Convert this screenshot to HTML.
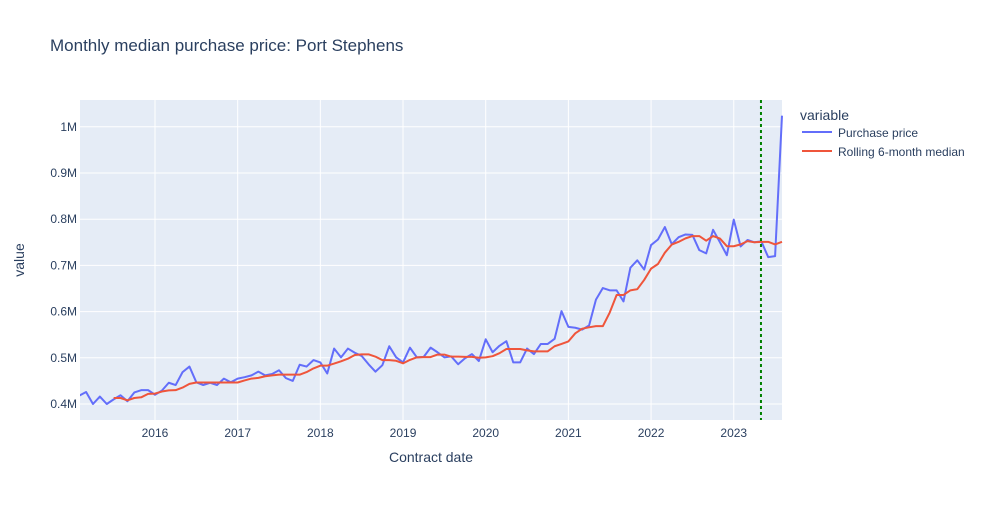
<!DOCTYPE html>
<html><head><meta charset="utf-8"><style>
body{margin:0;background:#fff;font-family:"Liberation Sans",sans-serif}
svg text{font-family:"Liberation Sans",sans-serif}
</style></head><body>
<svg id="chart" width="1000" height="500" xmlns="http://www.w3.org/2000/svg">
<rect width="1000" height="500" fill="#fff"/>
<text x="50" y="51" font-size="17" fill="#2a3f5f">Monthly median purchase price: Port Stephens</text>
<rect x="80" y="100" width="702" height="320" fill="#e5ecf6"/>
<g id="grid"></g>
<defs><clipPath id="clip"><rect x="80" y="100" width="703" height="320"/></clipPath></defs>
<g id="series" clip-path="url(#clip)"></g>
<g id="ticks"></g>
<text x="431" y="462" font-size="14" fill="#2a3f5f" text-anchor="middle">Contract date</text>
<text x="0" y="0" font-size="14" fill="#2a3f5f" text-anchor="middle" transform="translate(24,260) rotate(-90)">value</text>
<g>
<text x="800" y="120" font-size="14" fill="#2a3f5f">variable</text>
<g>
<line x1="802" y1="132" x2="832" y2="132" stroke="#636efa" stroke-width="2"/>
<text x="838" y="137" font-size="12" fill="#2a3f5f">Purchase price</text></g>
<g>
<line x1="802" y1="151" x2="832" y2="151" stroke="#ef553b" stroke-width="2"/>
<text x="838" y="156" font-size="12" fill="#2a3f5f">Rolling 6-month median</text></g>
</g>
</svg>
<script>
// month index 0 = 2015-02
const purchase = [.418,.426,.400,.416,.400,.410,.419,.406,.425,.430,.430,.420,.429,.446,.441,.469,.481,.447,.441,.446,.441,.455,.447,.455,.458,.462,.470,.462,.465,.473,.456,.450,.485,.481,.495,.490,.466,.520,.501,.520,.511,.504,.486,.470,.484,.525,.501,.490,.522,.501,.502,.522,.512,.501,.503,.486,.499,.508,.493,.540,.512,.526,.536,.490,.490,.520,.508,.530,.530,.541,.601,.567,.565,.561,.570,.626,.651,.646,.646,.622,.695,.711,.691,.744,.756,.783,.746,.761,.767,.766,.733,.726,.777,.750,.722,.799,.741,.755,.750,.752,.718,.720,1.024];
const rollingStart = 5;
const rolling = [.413,.413,.408,.413,.4145,.422,.4225,.427,.4295,.430,.4355,.4435,.4465,.4465,.4465,.4465,.4465,.4465,.4465,.451,.455,.4565,.460,.462,.4635,.4635,.4635,.4635,.469,.477,.483,.483,.4875,.4925,.498,.506,.5075,.5075,.5025,.495,.495,.4935,.488,.4955,.501,.5015,.5015,.507,.507,.5025,.5025,.502,.502,.500,.501,.5035,.510,.519,.519,.519,.516,.514,.514,.514,.525,.530,.5355,.553,.563,.566,.5685,.5685,.598,.636,.636,.646,.6485,.6685,.693,.703,.7275,.745,.751,.7585,.7635,.7635,.7535,.7635,.758,.7415,.7415,.7455,.7525,.750,.751,.751,.7455,.751];
const yTicks = [0.4,0.5,0.6,0.7,0.8,0.9,1.0];
const yTickLabels = ["0.4M","0.5M","0.6M","0.7M","0.8M","0.9M","1M"];
const xTickMonths = [11,23,35,47,59,71,83,95];
const xTickLabels = ["2016","2017","2018","2019","2020","2021","2022","2023"];
const markerMonth = 98.95; // ~2023-04

const NS="http://www.w3.org/2000/svg";
function X(m){return 79.2+6.89*m;}
function Y(v){return 404-(v-0.4)*462;}
function mk(tag,attrs,parent){const e=document.createElementNS(NS,tag);for(const k in attrs)e.setAttribute(k,attrs[k]);parent.appendChild(e);return e;}
const grid=document.getElementById('grid'),ticks=document.getElementById('ticks'),ser=document.getElementById('series');
yTicks.forEach((v,i)=>{
  const l=mk('line',{x1:80,x2:782,y1:Y(v),y2:Y(v),stroke:'#fff','stroke-width':1},grid);
  
  
  const t=mk('text',{x:77,y:Y(v)+4,'font-size':12,fill:'#2a3f5f','text-anchor':'end'},ticks);
  t.textContent=yTickLabels[i];
  
  
});
xTickMonths.forEach((m,i)=>{
  const l=mk('line',{x1:X(m),x2:X(m),y1:100,y2:420,stroke:'#fff','stroke-width':1},grid);
  
  
  const t=mk('text',{x:X(m),y:437,'font-size':12,fill:'#2a3f5f','text-anchor':'middle'},ticks);
  t.textContent=xTickLabels[i];
  
  
});
const p1=mk('polyline',{points:purchase.map((v,i)=>X(i)+','+Y(v)).join(' '),fill:'none',stroke:'#636efa','stroke-width':2,'stroke-linejoin':'round'},ser);


const p2=mk('polyline',{points:rolling.map((v,i)=>X(i+rollingStart)+','+Y(v)).join(' '),fill:'none',stroke:'#ef553b','stroke-width':2,'stroke-linejoin':'round'},ser);


const vl=mk('line',{x1:X(markerMonth),x2:X(markerMonth),y1:100,y2:420,stroke:'green','stroke-width':2,'stroke-dasharray':'3,3'},document.getElementById('chart'));


</script>
</body></html>
